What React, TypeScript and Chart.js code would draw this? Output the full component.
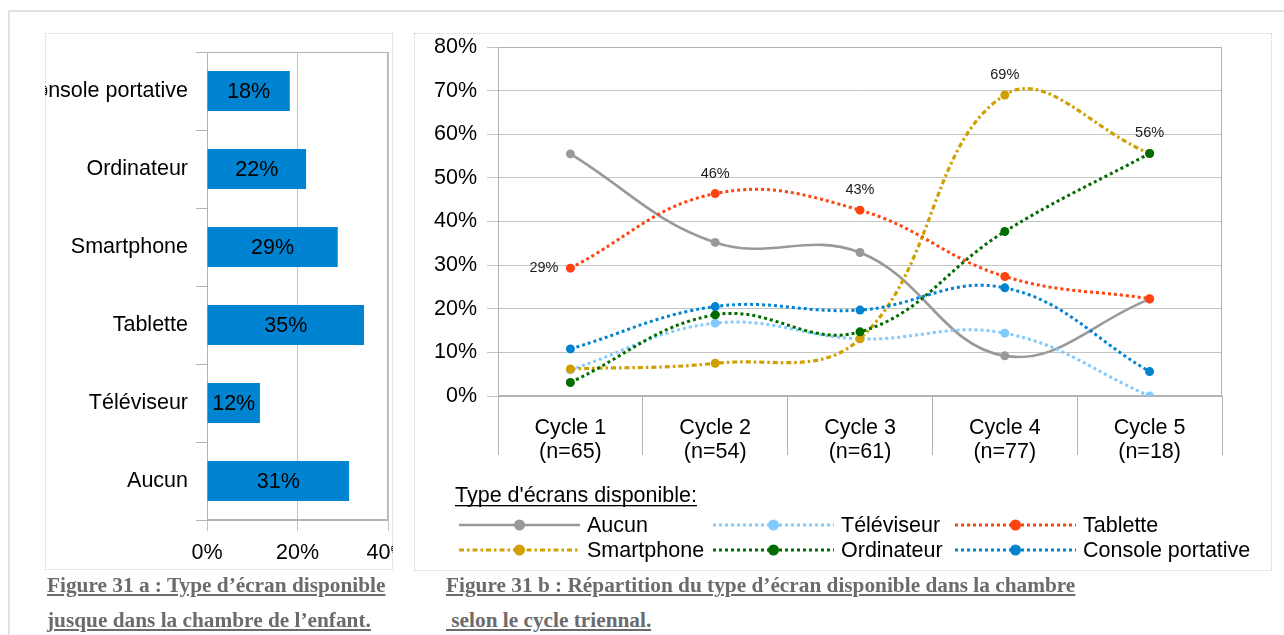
import React, { useEffect, useRef } from "react";
import { Chart, registerables } from "chart.js";

Chart.register(...registerables);

const FONT = "'Liberation Sans', Arial, sans-serif";
const FS = 21.5;
const GRID = "#c4c4c4";
const AXIS = "#b3b3b3";

// ---- Figure 31 a ----
const barCategories = ["Console portative", "Ordinateur", "Smartphone", "Tablette", "Téléviseur", "Aucun"];
const barValues = [18.3, 21.9, 28.9, 34.7, 11.7, 31.4];
const barTicks = [0, 20, 40];

// ---- Figure 31 b ----
const cycleLabels = [
  ["Cycle 1", "(n=65)"],
  ["Cycle 2", "(n=54)"],
  ["Cycle 3", "(n=61)"],
  ["Cycle 4", "(n=77)"],
  ["Cycle 5", "(n=18)"],
];
const aucunValues = [55.5, 35.2, 32.9, 9.2, 22.2];
const televiseurValues = [6.0, 16.7, 13.1, 14.4, 0];
const tabletteValues = [29.3, 46.4, 42.6, 27.4, 22.3];
const smartphoneValues = [6.2, 7.5, 13.1, 69.0, 55.6];
const ordinateurValues = [3.1, 18.6, 14.7, 37.7, 55.6];
const consoleValues = [10.8, 20.5, 19.7, 24.8, 5.6];
const lineTicks = [0, 10, 20, 30, 40, 50, 60, 70, 80];
const tabletteLabelPos = ["left", "top", "top", null, null];
const smartphoneLabelPos = [null, null, null, "top", "top"];
const legendTitle = "Type d'écrans disponible:";

const plotBorder = {
  id: "plotBorder",
  beforeDatasetsDraw(chart: any) {
    const { ctx, chartArea } = chart;
    ctx.save();
    ctx.strokeStyle = AXIS;
    ctx.lineWidth = 1;
    ctx.strokeRect(chartArea.left + 0.5, chartArea.top + 0.5, chartArea.right - chartArea.left - 1, chartArea.bottom - chartArea.top - 1);
    ctx.restore();
  },
};

const barLabels = {
  id: "barLabels",
  afterDatasetsDraw(chart: any) {
    const { ctx } = chart;
    const meta = chart.getDatasetMeta(0);
    const ds = chart.data.datasets[0];
    ctx.save();
    ctx.font = `${FS}px ${FONT}`;
    ctx.fillStyle = "#000";
    ctx.textAlign = "center";
    ctx.textBaseline = "middle";
    meta.data.forEach((el: any, i: number) => {
      const v = ds.data[i] as number;
      ctx.fillText(Math.round(v) + "%", (el.x + el.base) / 2, el.y + 1);
    });
    ctx.restore();
  },
};

const pointLabels = {
  id: "pointLabels",
  afterDatasetsDraw(chart: any) {
    const { ctx } = chart;
    ctx.save();
    ctx.font = `14.5px ${FONT}`;
    ctx.fillStyle = "#1a1a1a";
    ctx.textBaseline = "middle";
    chart.data.datasets.forEach((ds: any, i: number) => {
      const pos = ds.labelPos;
      if (!pos) return;
      const meta = chart.getDatasetMeta(i);
      meta.data.forEach((el: any, j: number) => {
        if (!pos[j]) return;
        const txt = Math.round(ds.data[j]) + "%";
        if (pos[j] === "left") {
          ctx.textAlign = "right";
          ctx.fillText(txt, el.x - 12, el.y);
        } else {
          ctx.textAlign = "center";
          ctx.fillText(txt, el.x, el.y - 20);
        }
      });
    });
    ctx.restore();
  },
};

const customLegend = {
  id: "customLegend",
  afterDraw(chart: any) {
    const { ctx } = chart;
    const titleX = 41, titleY = 463;
    const colX = [45, 299, 541];
    const rowY = [492, 517];
    const lineLen = 121;
    ctx.save();
    ctx.font = `${FS}px ${FONT}`;
    ctx.fillStyle = "#000";
    ctx.textAlign = "left";
    ctx.textBaseline = "middle";
    ctx.fillText(legendTitle, titleX, titleY);
    const w = ctx.measureText(legendTitle).width;
    ctx.fillRect(titleX, titleY + 9, w, 1.3);
    chart.data.datasets.forEach((ds: any, i: number) => {
      const x = colX[i % 3];
      const y = rowY[Math.floor(i / 3)];
      ctx.strokeStyle = ds.borderColor;
      ctx.lineWidth = ds.borderWidth;
      ctx.setLineDash(ds.borderDash || []);
      ctx.beginPath();
      ctx.moveTo(x, y);
      ctx.lineTo(x + lineLen, y);
      ctx.stroke();
      ctx.setLineDash([]);
      ctx.fillStyle = ds.pointBackgroundColor;
      ctx.beginPath();
      ctx.arc(x + lineLen / 2, y, 5.5, 0, Math.PI * 2);
      ctx.fill();
      ctx.fillStyle = "#000";
      ctx.fillText(ds.label, x + lineLen + 7, y + 1);
    });
    ctx.restore();
  },
};

function lineDataset(label: string, data: number[], color: string, dash: number[], width: number, extra: any = {}) {
  return {
    label,
    data,
    borderColor: color,
    backgroundColor: color,
    pointBackgroundColor: color,
    pointBorderColor: color,
    pointBorderWidth: 0,
    pointRadius: 4.5,
    borderWidth: width,
    borderDash: dash,
    borderCapStyle: "butt",
    tension: 0.4,
    fill: false,
    ...extra,
  };
}

export default function App() {
  const barRef = useRef<HTMLCanvasElement>(null);
  const lineRef = useRef<HTMLCanvasElement>(null);

  useEffect(() => {
    const bar = new Chart(barRef.current as HTMLCanvasElement, {
      type: "bar",
      data: {
        labels: barCategories,
        datasets: [
          {
            data: barValues,
            backgroundColor: "#0084d1",
            borderWidth: 0,
            barPercentage: 0.513,
            categoryPercentage: 1,
          },
        ],
      },
      options: {
        indexAxis: "y",
        responsive: false,
        animation: false,
        layout: { padding: { top: 19, right: 5, left: 0, bottom: 0 } },
        plugins: { legend: { display: false }, tooltip: { enabled: false } },
        scales: {
          x: {
            type: "linear",
            min: 0,
            max: 40,
            afterBuildTicks: (s: any) => {
              s.ticks = barTicks.map((v) => ({ value: v }));
            },
            afterFit: (s: any) => {
              s.height = 50;
              s.paddingLeft = 0;
              s.paddingRight = 0;
            },
            grid: { color: GRID, tickLength: 11, drawTicks: true },
            border: { color: AXIS },
            ticks: {
              color: "#000",
              padding: 9,
              font: { family: FONT, size: FS },
              maxRotation: 0,
              callback: (v: any) => v + "%",
            },
          },
          y: {
            type: "category",
            offset: true,
            afterFit: (s: any) => {
              s.width = 162;
              s.paddingTop = 0;
              s.paddingBottom = 0;
            },
            grid: { offset: true, drawOnChartArea: false, tickLength: 11, color: AXIS },
            border: { color: AXIS },
            ticks: { color: "#000", padding: 8, autoSkip: false, font: { family: FONT, size: FS } },
          },
        },
      } as any,
      plugins: [plotBorder, barLabels],
    });

    const datasets = [
      lineDataset("Aucun", aucunValues, "#999999", [], 2.6),
      lineDataset("Téléviseur", televiseurValues, "#83caff", [3, 3], 3),
      lineDataset("Tablette", tabletteValues, "#ff420e", [3, 3], 3, { labelPos: tabletteLabelPos }),
      lineDataset("Smartphone", smartphoneValues, "#d0a000", [5, 3, 2.5, 3], 3.2, { labelPos: smartphoneLabelPos }),
      lineDataset("Ordinateur", ordinateurValues, "#006c00", [3, 3], 3),
      lineDataset("Console portative", consoleValues, "#0084d1", [3, 3], 3),
    ].map((d, i) => ({ ...d, order: -i }));

    const line = new Chart(lineRef.current as HTMLCanvasElement, {
      type: "line",
      data: { labels: cycleLabels as any, datasets: datasets as any },
      options: {
        responsive: false,
        animation: false,
        layout: { padding: { top: 14, right: 50, left: 0, bottom: 0 } },
        plugins: { legend: { display: false }, tooltip: { enabled: false } },
        scales: {
          x: {
            type: "category",
            offset: true,
            afterFit: (s: any) => {
              s.height = 175;
              s.paddingLeft = 0;
              s.paddingRight = 0;
            },
            grid: { offset: true, drawOnChartArea: false, tickLength: 59, color: AXIS },
            border: { color: AXIS },
            ticks: {
              color: "#000",
              padding: -39,
              maxRotation: 0,
              autoSkip: false,
              font: { family: FONT, size: FS, lineHeight: 1.12 },
            },
          },
          y: {
            type: "linear",
            min: 0,
            max: 80,
            afterBuildTicks: (s: any) => {
              s.ticks = lineTicks.map((v) => ({ value: v }));
            },
            afterFit: (s: any) => {
              s.width = 84;
              s.paddingTop = 0;
              s.paddingBottom = 0;
            },
            grid: { color: GRID, tickLength: 11 },
            border: { color: AXIS },
            ticks: {
              color: "#000",
              padding: 10,
              font: { family: FONT, size: FS },
              callback: (v: any) => v + "%",
            },
          },
        },
      } as any,
      plugins: [plotBorder, pointLabels, customLegend],
    });

    return () => {
      bar.destroy();
      line.destroy();
    };
  }, []);

  const caption: React.CSSProperties = {
    position: "absolute",
    fontFamily: "'Liberation Serif', 'Times New Roman', serif",
    fontWeight: "bold",
    fontSize: 21.3,
    lineHeight: "24px",
    color: "#6b6b6b",
    textDecoration: "underline",
    whiteSpace: "pre",
  };

  return (
    <div style={{ position: "fixed", left: 0, top: 0, width: 1284, height: 635, overflow: "hidden", background: "#fff" }}>
      <div
        style={{
          position: "absolute",
          left: 8,
          top: 10,
          width: 1400,
          height: 800,
          borderLeft: "2px solid #e2e2e2",
          borderTop: "2px solid #e2e2e2",
        }}
      />
      <canvas ref={barRef} width={348} height={537} style={{ position: "absolute", left: 45, top: 33 }} />
      <canvas ref={lineRef} width={858} height={538} style={{ position: "absolute", left: 414, top: 33 }} />
      <div
        style={{ position: "absolute", left: 45, top: 33, width: 348, height: 537, boxSizing: "border-box", border: "1px dotted #d0d0d0", pointerEvents: "none" }}
      />
      <div
        style={{ position: "absolute", left: 414, top: 33, width: 858, height: 538, boxSizing: "border-box", border: "1px dotted #d0d0d0", pointerEvents: "none" }}
      />
      <div style={{ ...caption, left: 47, top: 573 }}>Figure 31 a : Type d’écran disponible</div>
      <div style={{ ...caption, left: 47, top: 608 }}>jusque dans la chambre de l’enfant.</div>
      <div style={{ ...caption, left: 446, top: 573 }}>Figure 31 b : Répartition du type d’écran disponible dans la chambre</div>
      <div style={{ ...caption, left: 446, top: 608 }}> selon le cycle triennal.</div>
    </div>
  );
}
